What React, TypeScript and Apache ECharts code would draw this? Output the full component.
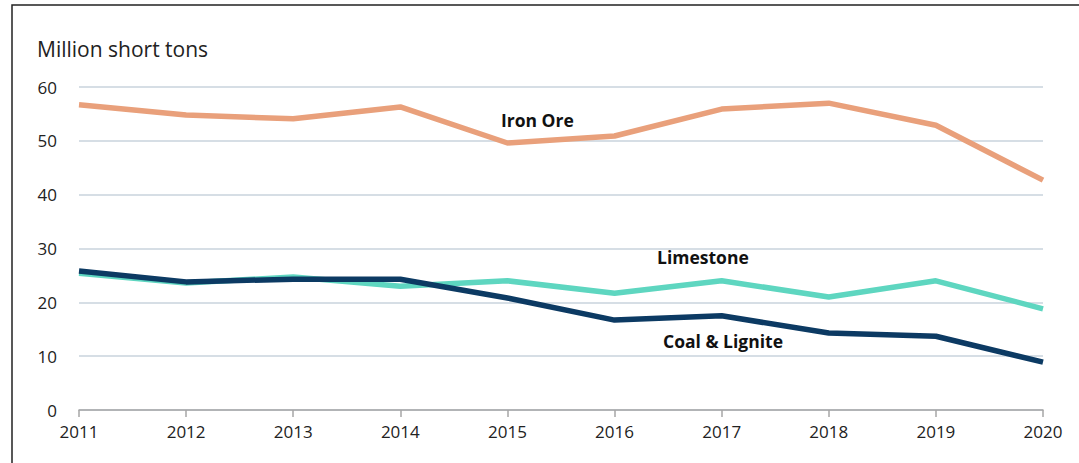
import React, { useEffect, useRef } from "react";
import * as echarts from "echarts";

const years = ["2011", "2012", "2013", "2014", "2015", "2016", "2017", "2018", "2019", "2020"];
const ironOre = [56.7, 54.8, 54.1, 56.3, 49.6, 50.9, 55.9, 57.0, 52.9, 42.7];
const limestone = [25.4, 23.6, 24.7, 23.0, 24.0, 21.7, 24.0, 21.0, 24.0, 18.8];
const coalLignite = [25.8, 23.8, 24.3, 24.3, 20.8, 16.7, 17.5, 14.3, 13.7, 8.9];
const unitLabel = "Million short tons";

const FONT = "'Open Sans', 'Noto Sans', sans-serif";

export default function App() {
  const ref = useRef<HTMLDivElement>(null);
  useEffect(() => {
    document.body.style.margin = "0";
    const chart = echarts.init(ref.current!, null, { renderer: "svg" });
    const mk = (name: string, data: number[], color: string) => ({
      name,
      type: "line",
      data,
      symbol: "none",
      lineStyle: { width: 5.5, color },
      itemStyle: { color },
      z: 3,
    });
    chart.setOption({
      animation: false,
      backgroundColor: "#ffffff",
      grid: { left: 79, right: 36, top: 87, bottom: 53 },
      xAxis: {
        type: "category",
        data: years,
        boundaryGap: false,
        axisLine: { lineStyle: { color: "#a6a6a6", width: 1.5 } },
        axisTick: { show: true, length: 7, lineStyle: { color: "#a6a6a6", width: 1.5 } },
        axisLabel: { color: "#222", fontSize: 17, fontFamily: FONT, margin: 13 },
        splitLine: { show: false },
      },
      yAxis: {
        type: "value",
        min: 0,
        max: 60,
        interval: 10,
        axisLine: { show: false },
        axisTick: { show: false },
        axisLabel: { color: "#222", fontSize: 17, fontFamily: FONT, margin: 22 },
        splitLine: { lineStyle: { color: "#d6dee5", width: 2 } },
      },
      series: [
        mk("Iron Ore", ironOre, "#e9a07b"),
        mk("Limestone", limestone, "#5ed6c0"),
        mk("Coal & Lignite", coalLignite, "#0c3a63"),
      ],
      graphic: [
        {
          type: "rect",
          shape: { x: 12, y: 5, width: 1080, height: 480 },
          style: { fill: "none", stroke: "#222", lineWidth: 1.5 },
          silent: true,
        },
        {
          type: "text",
          left: 37,
          top: 38,
          style: { text: unitLabel, fontSize: 21, fontFamily: FONT, fill: "#222" },
        },
        {
          type: "text",
          left: 501,
          top: 111,
          style: { text: "Iron Ore", fontSize: 17.5, fontWeight: "bold", fontFamily: FONT, fill: "#111" },
        },
        {
          type: "text",
          left: 657,
          top: 248,
          style: { text: "Limestone", fontSize: 17.5, fontWeight: "bold", fontFamily: FONT, fill: "#111" },
        },
        {
          type: "text",
          left: 663,
          top: 332,
          style: { text: "Coal & Lignite", fontSize: 17.5, fontWeight: "bold", fontFamily: FONT, fill: "#111" },
        },
      ],
    });
    return () => chart.dispose();
  }, []);
  return <div ref={ref} style={{ width: 1079, height: 463 }} />;
}
